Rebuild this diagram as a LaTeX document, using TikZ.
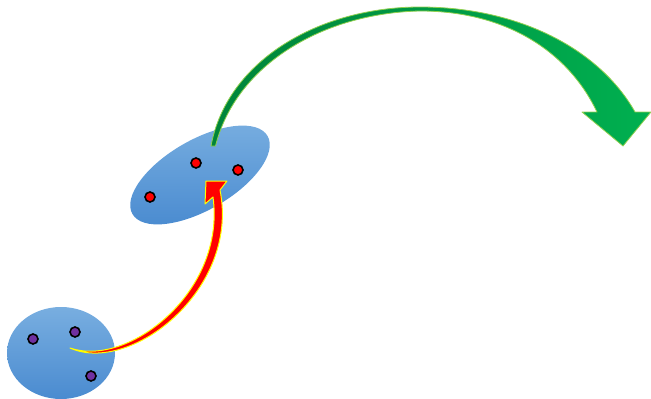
\documentclass[tikz,border=0pt]{standalone}
\usetikzlibrary{shapes.geometric}
\definecolor{BlobLight}{HTML}{78AEE0}
\definecolor{BlobDark}{HTML}{4A8BD0}
\definecolor{GreenMain}{HTML}{00B050}
\definecolor{GreenDark}{HTML}{00843A}
\definecolor{GreenEdge}{HTML}{92D050}
\definecolor{PurpleDot}{HTML}{7030A0}
\definecolor{RedEdge}{HTML}{FFFF00}

\begin{document}
\begin{tikzpicture}[x=1pt,y=-1pt]
  \tikzstyle{blob}=[ellipse,inner sep=0pt,top color=BlobLight,bottom color=BlobDark]
  \tikzstyle{spot}=[circle,draw=black,line width=1.6pt,inner sep=0pt,minimum size=10pt]
  \useasboundingbox (0,0) rectangle (651,399);
  % the two groups
  \node[blob,minimum width=108pt,minimum height=92pt] (low) at (61,353) {};
  \node[blob,minimum width=156pt,minimum height=70pt,rotate=30] (up) at (200,175) {};
  \node[spot,fill=PurpleDot] (p1) at (33,339) {};
  \node[spot,fill=PurpleDot] (p2) at (75,332) {};
  \node[spot,fill=PurpleDot] (p3) at (91,376) {};
  \node[spot,fill=red] (r1) at (196,163) {};
  \node[spot,fill=red] (r2) at (238,170) {};
  \node[spot,fill=red] (r3) at (150,197) {};
  % arrow ends
  \coordinate (rtail) at (70,348);
  \coordinate (rtip) at (206,181);
  \coordinate (gtail) at (213,146);
  \coordinate (gtip) at (623,146);
  % red arrow
  \filldraw[fill=red,draw=RedEdge,line width=1pt,line join=round]
    (rtail) .. controls (130,375) and (240,290) .. (220,190)
    -- (227,181) -- (rtip) -- (205,204) -- (213,197)
    .. controls (226,292) and (128,368) .. (rtail) -- cycle;
  % green arrow
  \path[left color=GreenDark,middle color=GreenMain,right color=GreenMain,
    draw=GreenEdge,line width=0.8pt,line join=round]
    ([xshift=-2pt]gtail) .. controls (227,60) and (320,7) .. (420,7)
    .. controls (520,7) and (600,50) .. (635,112)
    -- (651,112) -- (gtip) -- (582,112) -- (597,112)
    .. controls (570,55) and (510,11) .. (420,11)
    .. controls (324,13) and (236,64) .. ([xshift=2.5pt]gtail) -- cycle;
\end{tikzpicture}
\end{document}
